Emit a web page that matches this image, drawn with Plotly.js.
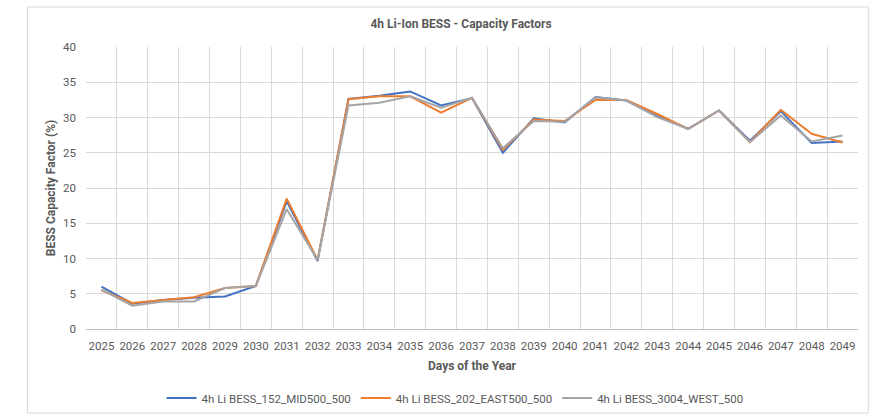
<!DOCTYPE html>
<html>
<head>
<meta charset="utf-8">
<script src="https://cdn.plot.ly/plotly-3.0.1.min.js"></script>
<style>
  html, body { margin: 0; padding: 0; background: #ffffff; }
  #grafico { width: 886px; height: 420px; }
</style>
</head>
<body>
<div id="grafico"></div>
<script>
// Años del eje X (categorías)
const anios = [
  '2025', '2026', '2027', '2028', '2029', '2030', '2031', '2032', '2033', '2034',
  '2035', '2036', '2037', '2038', '2039', '2040', '2041', '2042', '2043', '2044',
  '2045', '2046', '2047', '2048', '2049',
];

// Factores de capacidad (%)
const serieMid = [
  6.0, 3.6, 4.1, 4.45, 4.6, 6.1, 18.1, 9.65, 32.65, 33.1,
  33.7, 31.7, 32.75, 25.0, 29.9, 29.3, 32.9, 32.4, 30.2, 28.4,
  31.0, 26.7, 30.9, 26.4, 26.6,
];
const serieEast = [
  5.5, 3.7, 4.1, 4.5, 5.8, 6.1, 18.5, 9.8, 32.6, 33.0,
  33.0, 30.7, 32.8, 25.4, 29.7, 29.5, 32.5, 32.5, 30.5, 28.4,
  31.0, 26.5, 31.1, 27.7, 26.45,
];
const serieWest = [
  5.6, 3.3, 3.9, 3.9, 5.8, 6.1, 17.0, 9.8, 31.7, 32.1,
  33.0, 31.4, 32.8, 25.65, 29.5, 29.4, 32.85, 32.4, 30.05, 28.4,
  31.0, 26.5, 30.3, 26.6, 27.45,
];

const nombres = ['4h Li BESS_152_MID500_500', '4h Li BESS_202_EAST500_500', '4h Li BESS_3004_WEST_500'];
const colores = ['#4472c4', '#ed7d31', '#a5a5a5'];
const series = [serieMid, serieEast, serieWest];

const FUENTE = 'Roboto, "Open Sans", sans-serif';
const GRIS_TEXTO = '#595959';

const trazas = series.map((valores, i) => ({
  x: anios,
  y: valores,
  type: 'scatter',
  mode: 'lines',
  name: nombres[i],
  line: { color: colores[i], width: 2 },
}));

// Área de trazado en píxeles del lienzo de 886x420
const IZQ = 85.5, DER = 857.7, ARRIBA = 47, ABAJO = 329;
const anchoPlot = DER - IZQ, altoPlot = ABAJO - ARRIBA;

const layout = {
  width: 886,
  height: 420,
  margin: { l: IZQ, r: 886 - DER, t: ARRIBA, b: 420 - ABAJO },
  paper_bgcolor: '#ffffff',
  plot_bgcolor: '#ffffff',
  font: { family: FUENTE, size: 11, color: GRIS_TEXTO },
  title: {
    text: '<b>4h Li-Ion BESS - Capacity Factors</b>',
    font: { family: FUENTE, size: 12, color: GRIS_TEXTO },
    xref: 'container', x: 461 / 886, xanchor: 'center',
    yref: 'container', y: 1 - 24 / 420, yanchor: 'middle',
  },
  xaxis: {
    type: 'category',
    range: [-0.5, anios.length - 0.5],
    tickson: 'boundaries',
    tickangle: 0,
    showgrid: true,
    gridcolor: '#d9d9d9',
    gridwidth: 1,
    showline: true,
    linecolor: '#bfbfbf',
    linewidth: 1,
    zeroline: false,
    ticks: '',
    ticklabelstandoff: 6,
    tickfont: { family: FUENTE, size: 11.5, color: GRIS_TEXTO },
    automargin: false,
    title: {
      text: '<b>Days of the Year</b>',
      font: { family: FUENTE, size: 12, color: GRIS_TEXTO },
      standoff: 9,
    },
  },
  yaxis: {
    range: [0, 40],
    dtick: 5,
    showgrid: true,
    gridcolor: '#d9d9d9',
    gridwidth: 1,
    zeroline: false,
    showline: false,
    ticks: '',
    ticklabelstandoff: 9,
    tickfont: { family: FUENTE, size: 11.5, color: GRIS_TEXTO },
    automargin: false,
    title: {
      text: '<b>BESS Capacity Factor (%)</b>',
      font: { family: FUENTE, size: 12, color: GRIS_TEXTO },
      standoff: 4,
    },
  },
  showlegend: true,
  legend: {
    orientation: 'h',
    xref: 'paper', x: 0.478, xanchor: 'center',
    yref: 'container', y: 1 - 398 / 420, yanchor: 'middle',
    font: { family: FUENTE, size: 11.5, color: GRIS_TEXTO },
    bgcolor: 'rgba(0,0,0,0)',
  },
  // marco exterior del área del gráfico
  shapes: [{
    type: 'rect',
    xref: 'paper', yref: 'paper',
    x0: (27 - IZQ) / anchoPlot, x1: (868 - IZQ) / anchoPlot,
    y0: (ABAJO - 413) / altoPlot, y1: (ABAJO - 7) / altoPlot,
    line: { color: '#d9d9d9', width: 1 },
    fillcolor: 'rgba(0,0,0,0)',
    layer: 'below',
  }],
};

Plotly.newPlot('grafico', trazas, layout, { displayModeBar: false, staticPlot: true });
</script>
</body>
</html>
